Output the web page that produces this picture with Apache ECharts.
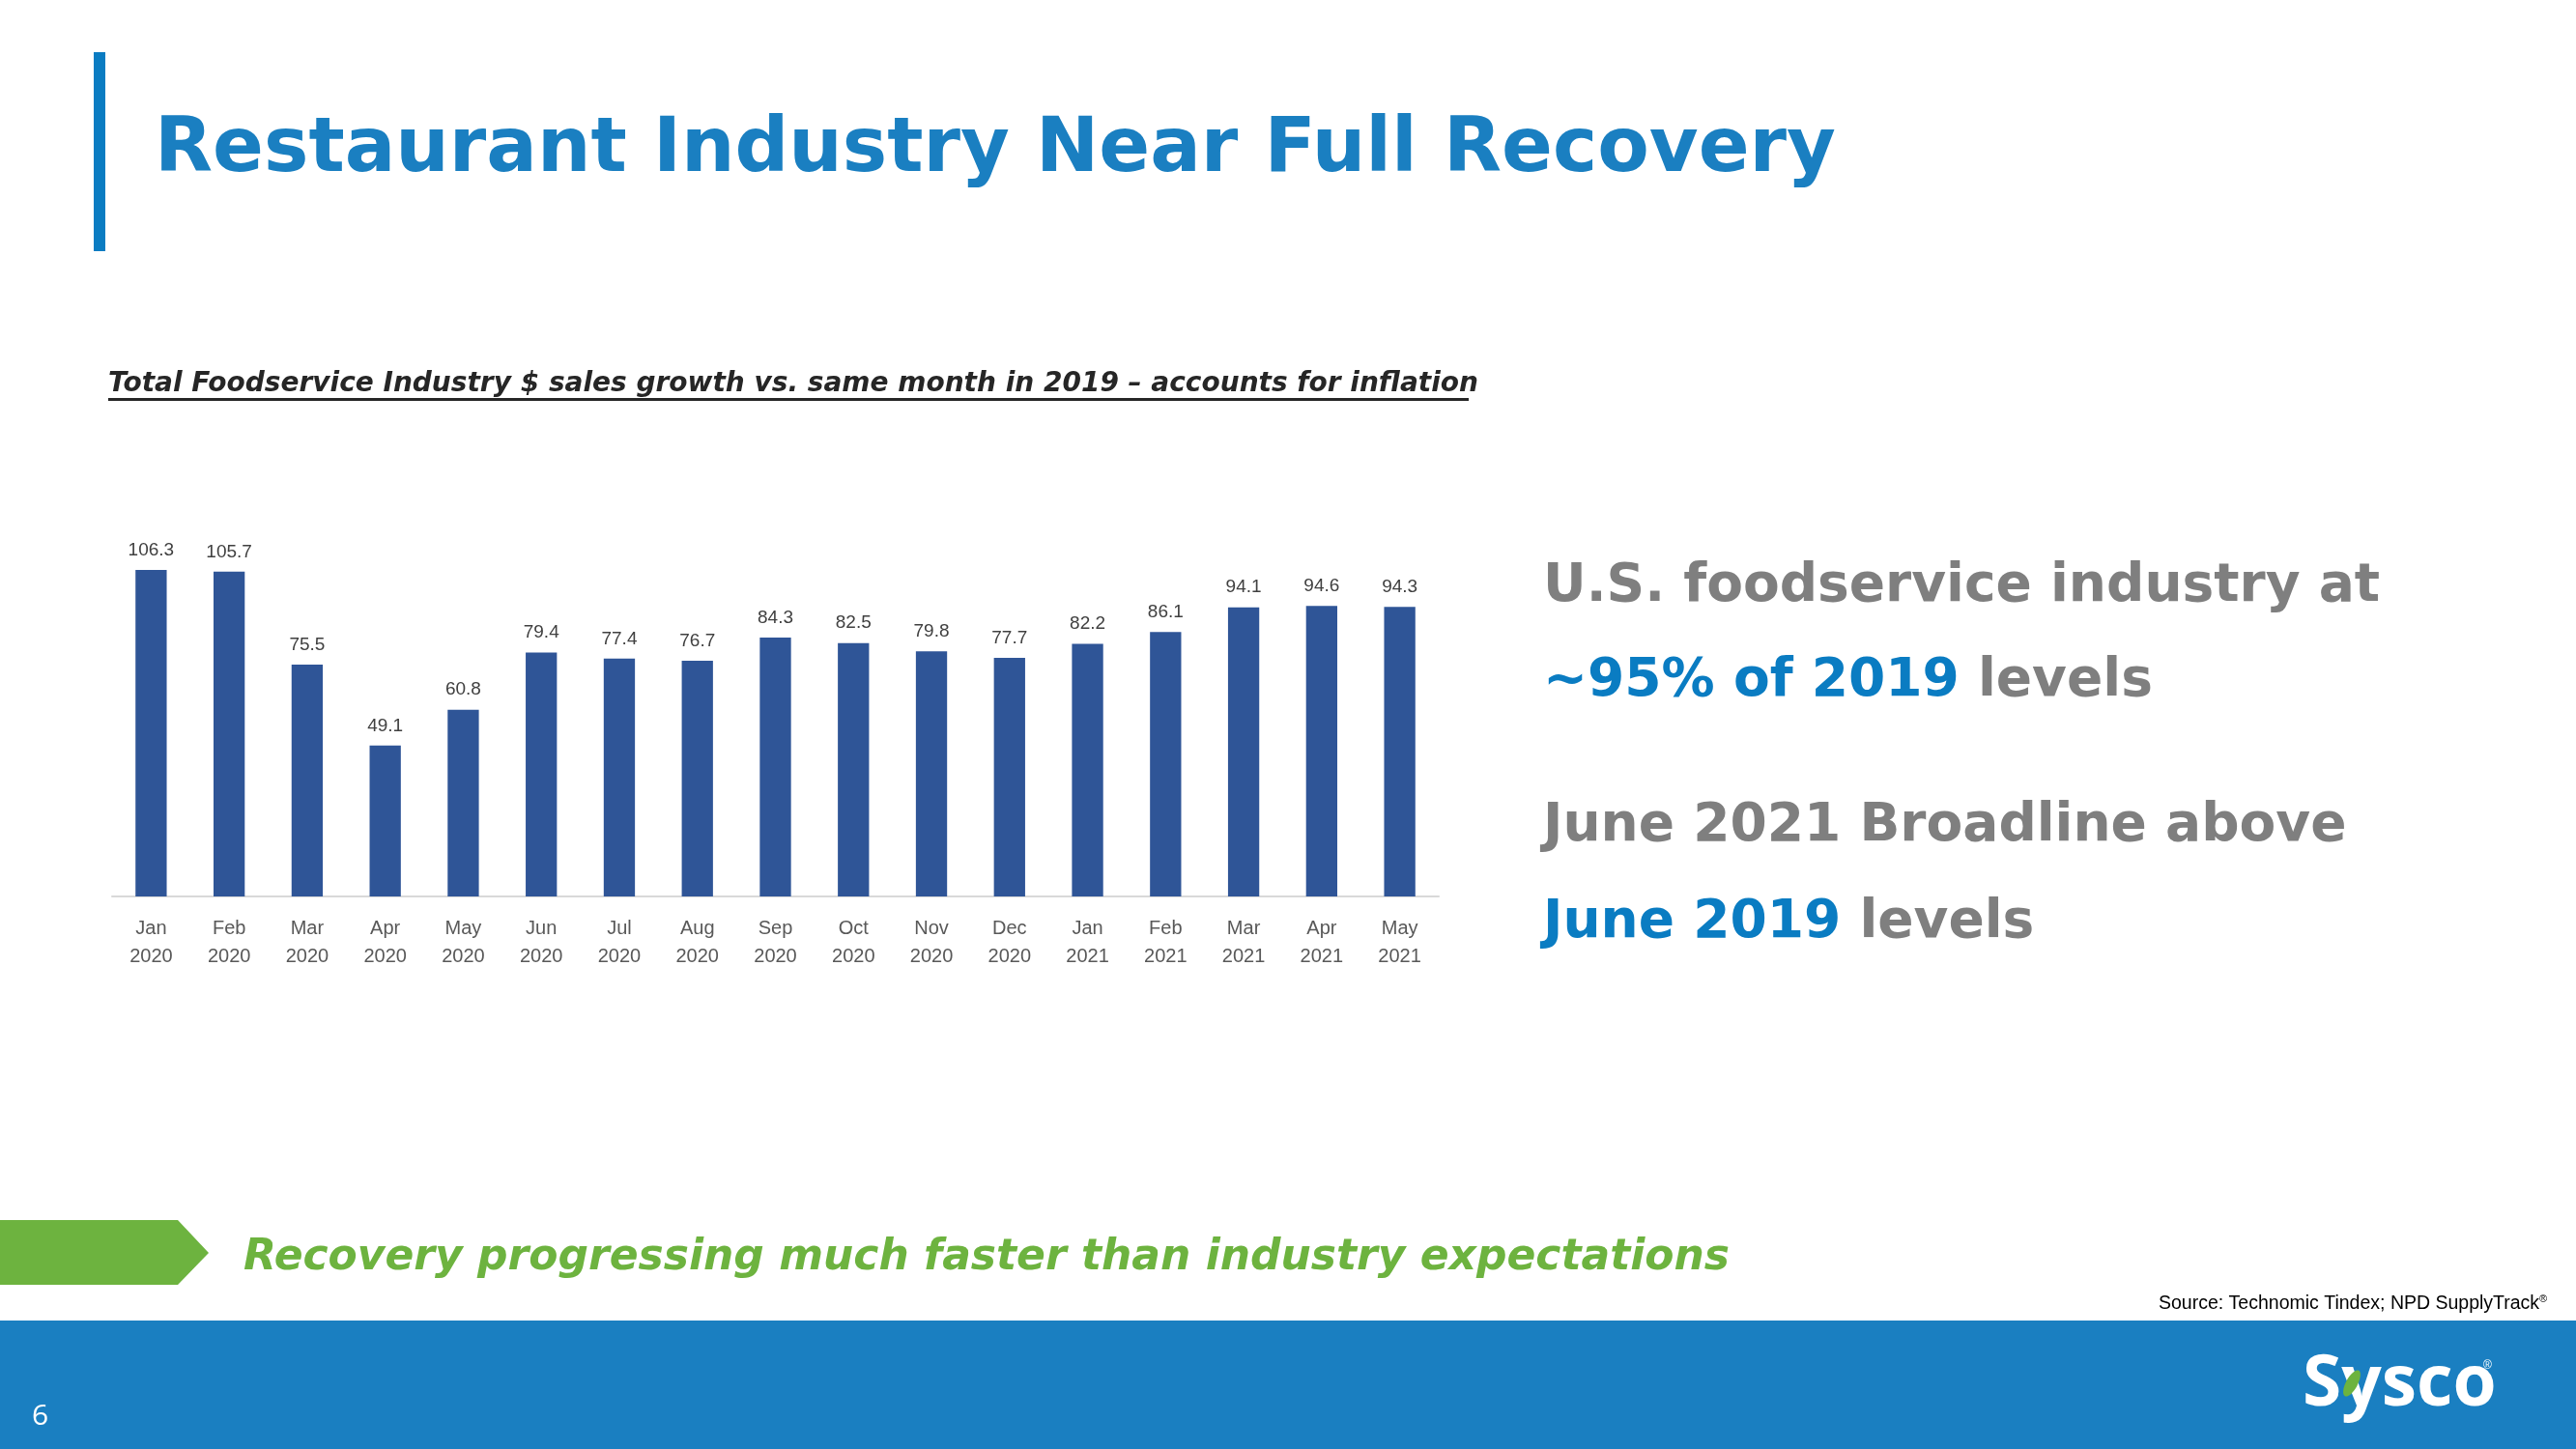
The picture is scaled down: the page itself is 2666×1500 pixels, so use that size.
<!DOCTYPE html>
<html><head><meta charset="utf-8">
<script src="https://cdn.jsdelivr.net/npm/echarts@6/dist/echarts.min.js"></script>
<style>html,body{margin:0;padding:0;background:#fff}#c{width:2666px;height:1500px}</style>
</head><body><div id="c"></div>
<script>
const months = ['Jan','Feb','Mar','Apr','May','Jun','Jul','Aug','Sep','Oct','Nov','Dec','Jan','Feb','Mar','Apr','May'];
const years = ['2020','2020','2020','2020','2020','2020','2020','2020','2020','2020','2020','2020','2021','2021','2021','2021','2021'];
const salesIndex = [106.3,105.7,75.5,49.1,60.8,79.4,77.4,76.7,84.3,82.5,79.8,77.7,82.2,86.1,94.1,94.6,94.3];
const categories = months.map((m,i)=>m+'\n'+years[i]);

const BLUE='#1a7fc1', TBLUE='#0a7cc2', GRAY='#7f7f7f', GREEN='#6db33f';
const HEAD='"DejaVu Sans", Verdana, sans-serif';
const BODY='"Liberation Sans", Arial, sans-serif';

const chart = echarts.init(document.getElementById('c'), null, {renderer:'canvas'});
chart.setOption({
  animation:false,
  backgroundColor:'#ffffff',
  grid:{left:116, right:1177, top:546.4, bottom:572, containLabel:false},
  xAxis:{type:'category', data:categories,
    axisLine:{show:true, lineStyle:{color:'#d9d9d9', width:2}},
    axisTick:{show:false},
    axisLabel:{color:'#595959', fontFamily:BODY, fontSize:20, lineHeight:29, margin:19, interval:0}},
  yAxis:{type:'value', min:0, max:120, show:false, splitLine:{show:false}},
  series:[{type:'bar', data:salesIndex, barWidth:'40%',
    itemStyle:{color:'#2f5597'},
    label:{show:true, position:'top', distance:11, color:'#404040', fontFamily:BODY, fontSize:19,
      formatter:p=>p.value.toFixed(1)}}],
  graphic:[
    {type:'rect', shape:{x:97,y:54,width:12,height:206}, style:{fill:TBLUE}},
    {type:'text', style:{x:160, y:157, text:'Restaurant Industry Near Full Recovery', fill:BLUE,
      font:'bold 78px '+HEAD, verticalAlign:'middle'}},
    {type:'text', style:{x:112, y:398, text:'Total Foodservice Industry $ sales growth vs. same month in 2019 – accounts for inflation',
      fill:'#262626', font:'italic bold 28px '+HEAD, verticalAlign:'middle'}},
    {type:'rect', shape:{x:112,y:412,width:1408,height:3}, style:{fill:'#262626'}},
    {type:'text', style:{x:1597, y:608, text:'U.S. foodservice industry at', fill:GRAY,
      font:'bold 55px '+HEAD, verticalAlign:'middle'}},
    {type:'text', style:{x:1597, y:706, text:'{b|~95% of 2019 }{g|levels}', verticalAlign:'middle',
      rich:{b:{fill:TBLUE, font:'bold 55px '+HEAD}, g:{fill:GRAY, font:'bold 55px '+HEAD}}}},
    {type:'text', style:{x:1597, y:856, text:'June 2021 Broadline above', fill:GRAY,
      font:'bold 55px '+HEAD, verticalAlign:'middle'}},
    {type:'text', style:{x:1597, y:956, text:'{b|June 2019 }{g|levels}', verticalAlign:'middle',
      rich:{b:{fill:TBLUE, font:'bold 55px '+HEAD}, g:{fill:GRAY, font:'bold 55px '+HEAD}}}},
    {type:'polygon', shape:{points:[[0,1263],[184,1263],[216,1297],[184,1330],[0,1330]]}, style:{fill:GREEN}},
    {type:'text', style:{x:252, y:1303, text:'Recovery progressing much faster than industry expectations', fill:GREEN,
      font:'italic bold 44px '+HEAD, verticalAlign:'middle'}},
    {type:'text', style:{x:2234, y:1350, text:'{s|Source: Technomic Tindex; NPD SupplyTrack}{r|®}', verticalAlign:'middle',
      rich:{s:{fill:'#000', font:'19.5px '+BODY}, r:{fill:'#000', font:'11px '+BODY, verticalAlign:'top', padding:[0,0,10,0]}}}},
    {type:'rect', shape:{x:0,y:1367,width:2666,height:133}, style:{fill:BLUE}},
    {type:'text', style:{x:33, y:1466, text:'6', fill:'#fff', font:'30px "Open Sans", sans-serif', verticalAlign:'middle'}},
    {type:'text', style:{x:2383, y:1434, text:'Sysco', fill:'#fff', font:'bold 73px "Open Sans", sans-serif', verticalAlign:'middle'}},
    {type:'ellipse', shape:{cx:2434, cy:1432, rx:6, ry:15}, rotation:-0.5, originX:2434, originY:1432, style:{fill:GREEN}},
    {type:'text', style:{x:2570, y:1414, text:'®', fill:'#fff', font:'12px sans-serif', verticalAlign:'middle'}}
  ]
});
</script></body></html>
